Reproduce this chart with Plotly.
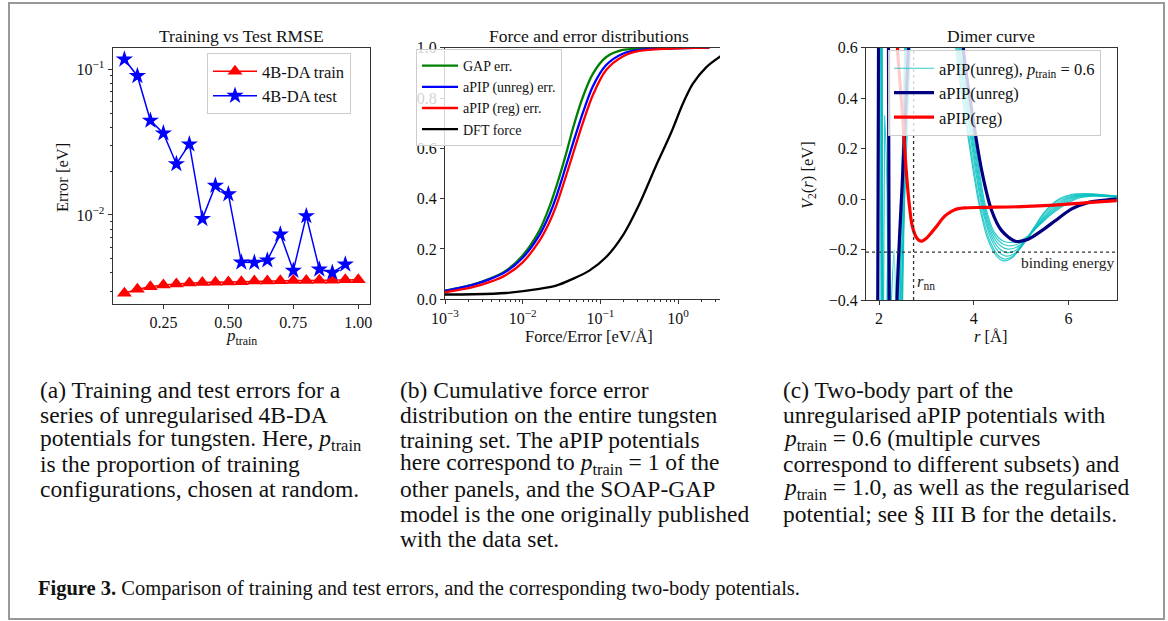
import plotly.graph_objects as go

W, H = 1168, 621
FONT = "Liberation Serif"

# ---------------- Panel (a): training vs test RMSE ----------------
p_train_train = [0.10, 0.15, 0.20, 0.25, 0.30, 0.35, 0.40, 0.45, 0.50, 0.55,
                 0.60, 0.65, 0.70, 0.75, 0.80, 0.85, 0.90, 0.95, 1.00]
train_err = [0.00290, 0.00309, 0.00322, 0.00331, 0.00336, 0.00341, 0.00344, 0.00345,
             0.00347, 0.00348, 0.00352, 0.00352, 0.00353, 0.00355, 0.00355, 0.00357,
             0.00357, 0.00359, 0.00359]
p_train_test = [0.10, 0.15, 0.20, 0.25, 0.30, 0.35, 0.40, 0.45, 0.50, 0.55,
                0.60, 0.65, 0.70, 0.75, 0.80, 0.85, 0.90, 0.95]
test_err = [0.117, 0.090, 0.0445, 0.0364, 0.0224, 0.0306, 0.0094, 0.0159, 0.0139,
            0.00473, 0.00471, 0.00489, 0.00736, 0.00415, 0.00984, 0.00424, 0.00402, 0.00458]

# ---------------- Panel (b): cumulative distributions ----------------
err_x = [0.001, 0.00227, 0.00372, 0.0061, 0.01, 0.0164, 0.022, 0.0269, 0.0361,
         0.0441, 0.0593, 0.0796, 0.118, 0.194, 0.318, 2.53]
gap_cdf = [0.034, 0.058, 0.081, 0.114, 0.174, 0.273, 0.366, 0.445, 0.577, 0.677,
           0.803, 0.895, 0.962, 0.991, 0.996, 1.0]
unreg_cdf = [0.033, 0.057, 0.079, 0.110, 0.165, 0.255, 0.335, 0.405, 0.530, 0.617,
             0.740, 0.845, 0.930, 0.976, 0.991, 1.0]
reg_cdf = [0.028, 0.048, 0.068, 0.097, 0.147, 0.232, 0.305, 0.370, 0.490, 0.575,
           0.700, 0.810, 0.910, 0.965, 0.987, 1.0]
dft_x = [0.001, 0.00227, 0.0061, 0.0164, 0.0269, 0.0441, 0.0721, 0.118, 0.194, 0.318,
         0.521, 0.700, 0.853, 1.148, 1.545, 2.30, 3.61]
dft_cdf = [0.019, 0.020, 0.025, 0.041, 0.054, 0.081, 0.114, 0.167, 0.253, 0.379,
           0.531, 0.617, 0.677, 0.776, 0.856, 0.922, 0.968]

# ---------------- Panel (c): dimer curves ----------------
cyan_r = [
    [1.99, 2.07, 2.12, 2.17, 2.24, 2.36, 2.50, 2.60, 3.00,
     3.50, 3.62, 3.80, 3.99, 4.12, 4.30, 4.48, 4.63, 4.80, 5.00, 5.25, 5.50, 5.80, 6.10, 6.40, 6.70, 7.05],
    [2.01, 2.09, 2.15, 2.22, 2.32, 2.42, 2.56, 3.00,
     3.52, 3.645, 3.82, 4.01, 4.14, 4.32, 4.50, 4.65, 4.82, 5.02, 5.27, 5.52, 5.82, 6.12, 6.42, 6.72, 7.05],
    [2.03, 2.11, 2.20, 2.30, 2.44, 2.54, 3.00,
     3.54, 3.67, 3.85, 4.04, 4.17, 4.35, 4.53, 4.68, 4.85, 5.05, 5.30, 5.55, 5.85, 6.15, 6.45, 6.75, 7.05],
    [2.02, 2.10, 2.18, 2.28, 2.46, 2.60, 3.00,
     3.56, 3.69, 3.87, 4.06, 4.19, 4.37, 4.55, 4.70, 4.87, 5.07, 5.32, 5.57, 5.87, 6.17, 6.47, 6.77, 7.05],
    [2.05, 2.12, 2.25, 2.40, 2.48, 2.62, 3.00,
     3.58, 3.71, 3.89, 4.08, 4.21, 4.39, 4.57, 4.72, 4.89, 5.09, 5.34, 5.59, 5.89, 6.19, 6.49, 6.79, 7.05],
    [2.04, 2.12, 2.20, 2.30, 2.42, 2.56, 3.00,
     3.60, 3.73, 3.91, 4.10, 4.23, 4.41, 4.59, 4.74, 4.91, 5.11, 5.36, 5.61, 5.91, 6.21, 6.51, 6.81, 7.05],
    [2.06, 2.13, 2.25, 2.38, 2.52, 2.66, 3.00,
     3.62, 3.75, 3.93, 4.12, 4.25, 4.43, 4.61, 4.76, 4.93, 5.13, 5.38, 5.63, 5.93, 6.23, 6.53, 6.83, 7.05],
]
cyan_v = [
    [2.5, -1.5, 0.33, 0.02, -1.2, -2.0, -0.4, 0.6, 3.0,
     1.3, 0.60, 0.35, 0.11, -0.03, -0.16, -0.225, -0.245, -0.235, -0.19, -0.12, -0.05, 0.0, 0.020, 0.022, 0.018, 0.012],
    [2.5, -1.8, -0.9, -0.6, -0.2, -1.5, 0.6, 3.0,
     1.3, 0.60, 0.35, 0.11, -0.03, -0.155, -0.22, -0.238, -0.228, -0.185, -0.115, -0.05, -0.002, 0.018, 0.020, 0.017, 0.011],
    [2.5, -2.0, -2.5, -1.5, -0.4, 0.6, 3.0,
     1.3, 0.60, 0.35, 0.11, -0.03, -0.15, -0.21, -0.226, -0.218, -0.178, -0.112, -0.052, -0.006, 0.015, 0.018, 0.015, 0.010],
    [2.5, -2.0, -0.25, -2.0, -0.3, 0.6, 3.0,
     1.3, 0.60, 0.35, 0.11, -0.03, -0.145, -0.198, -0.212, -0.205, -0.170, -0.110, -0.055, -0.010, 0.013, 0.016, 0.013, 0.009],
    [2.5, -2.0, -2.5, -1.0, -0.4, 0.6, 3.0,
     1.3, 0.60, 0.35, 0.11, -0.03, -0.14, -0.186, -0.198, -0.192, -0.163, -0.108, -0.057, -0.014, 0.011, 0.015, 0.012, 0.008],
    [2.5, -2.0, 0.2, -2.0, -0.4, 0.6, 3.0,
     1.3, 0.60, 0.35, 0.11, -0.03, -0.135, -0.175, -0.185, -0.180, -0.156, -0.106, -0.060, -0.018, 0.008, 0.013, 0.011, 0.007],
    [2.5, -2.0, -2.5, -0.9, -0.1, 0.6, 3.0,
     1.3, 0.60, 0.35, 0.11, -0.03, -0.13, -0.165, -0.172, -0.168, -0.148, -0.104, -0.062, -0.022, 0.005, 0.012, 0.010, 0.006],
]
navy_r = [1.94, 2.02, 2.10, 2.17, 2.25, 2.32, 2.38, 2.50, 2.62, 2.75, 3.20, 3.65, 3.78,
          3.96, 4.17, 4.38, 4.59, 4.88, 5.16, 5.44, 5.72, 6.07, 6.43, 6.78, 7.05]
navy_v = [-2.5, 2.5, 3.0, 2.5, -2.5, -2.0, -0.4, 0.1, 0.6, 1.3, 3.0, 1.3, 0.6,
          0.35, 0.112, -0.046, -0.125, -0.167, -0.158, -0.125, -0.086, -0.039, -0.013, -0.004, 0.0]
reg_r = [2.30, 2.39, 2.49, 2.56, 2.63, 2.70, 2.80, 2.89, 3.00, 3.12, 3.23, 3.35, 3.45,
         3.60, 3.80, 4.20, 5.00, 5.70, 6.40, 7.05]
reg_v = [1.3, 0.6, 0.35, 0.15, -0.006, -0.105, -0.155, -0.167, -0.155, -0.13, -0.105,
         -0.075, -0.058, -0.042, -0.035, -0.033, -0.030, -0.024, -0.014, -0.006]
r_nn = 2.73
binding_energy = -0.21

# ---------------- captions ----------------
cap_a = ["(a) Training and test errors for a",
         "series of unregularised 4B-DA",
         "potentials for tungsten. Here, <i>p</i><sub>train</sub>",
         "is the proportion of training",
         "configurations, chosen at random."]
cap_b = ["(b) Cumulative force error",
         "distribution on the entire tungsten",
         "training set. The aPIP potentials",
         "here correspond to <i>p</i><sub>train</sub> = 1 of the",
         "other panels, and the SOAP-GAP",
         "model is the one originally published",
         "with the data set."]
cap_c = ["(c) Two-body part of the",
         "unregularised aPIP potentials with",
         "<i>p</i><sub>train</sub> = 0.6 (multiple curves",
         "correspond to different subsets) and",
         "<i>p</i><sub>train</sub> = 1.0, as well as the regularised",
         "potential; see § III B for the details."]
fig_caption = "<b>Figure 3.</b> Comparison of training and test errors, and the corresponding two-body potentials."


def fx(px):
    return px / W


def fy(py):
    return 1 - py / H


fig = go.Figure()

# Panel a traces
fig.add_trace(go.Scatter(x=p_train_train, y=train_err, mode="lines+markers", name="4B-DA train",
                         line=dict(color="#ff0000", width=1.5),
                         marker=dict(symbol="triangle-up", size=13, color="#ff0000"),
                         xaxis="x", yaxis="y", legend="legend"))
fig.add_trace(go.Scatter(x=p_train_test, y=test_err, mode="lines+markers", name="4B-DA test",
                         line=dict(color="#0000ff", width=1.5),
                         marker=dict(symbol="star", size=13, color="#0000ff"),
                         xaxis="x", yaxis="y", legend="legend"))

# Panel b traces
for xs, ys, name, col in [(err_x, gap_cdf, "GAP err.", "#008000"),
                          (err_x, unreg_cdf, "aPIP (unreg) err.", "#0000ff"),
                          (err_x, reg_cdf, "aPIP (reg) err.", "#ff0000"),
                          (dft_x, dft_cdf, "DFT force", "#000000")]:
    fig.add_trace(go.Scatter(x=xs, y=ys, mode="lines", name=name,
                             line=dict(color=col, width=2.3, shape="spline", smoothing=0.8),
                             xaxis="x2", yaxis="y2", legend="legend2"))

# Panel c traces
for i, (rr, vv) in enumerate(zip(cyan_r, cyan_v)):
    fig.add_trace(go.Scatter(x=rr, y=vv, mode="lines",
                             name="aPIP(unreg), <i>p</i><sub>train</sub> = 0.6",
                             line=dict(color="rgba(0,191,191,0.8)", width=1.2, shape="spline", smoothing=0.8),
                             legendgroup="cyan", showlegend=(i == 0),
                             xaxis="x3", yaxis="y3", legend="legend3"))
fig.add_trace(go.Scatter(x=navy_r, y=navy_v, mode="lines", name="aPIP(unreg)",
                         line=dict(color="#000080", width=3.2, shape="spline", smoothing=0.8),
                         legendgroup="navy", xaxis="x3", yaxis="y3", legend="legend3"))
fig.add_trace(go.Scatter(x=reg_r, y=reg_v, mode="lines", name="aPIP(reg)",
                         line=dict(color="#ff0000", width=3.2, shape="spline", smoothing=0.8),
                         legendgroup="reg", xaxis="x3", yaxis="y3", legend="legend3"))

axis_common = dict(showgrid=False, zeroline=False, showline=True, linecolor="#333",
                   linewidth=1.2, ticks="outside", ticklen=4, tickwidth=1, tickcolor="#333",
                   tickfont=dict(size=16, family=FONT, color="#111"))

# Minor tick positions
minor_a = [0.003, 0.004, 0.005, 0.006, 0.007, 0.008, 0.009,
           0.02, 0.03, 0.04, 0.05, 0.06, 0.07, 0.08, 0.09]
minor_b = [0.002, 0.003, 0.004, 0.005, 0.006, 0.007, 0.008, 0.009,
           0.02, 0.03, 0.04, 0.05, 0.06, 0.07, 0.08, 0.09,
           0.2, 0.3, 0.4, 0.5, 0.6, 0.7, 0.8, 0.9, 2, 3]

legend_style = dict(xanchor="left", yanchor="top", bgcolor="rgba(255,255,255,0.8)",
                    bordercolor="#cccccc", borderwidth=1, tracegroupgap=0, traceorder="normal")

fig.update_layout(
    width=W, height=H, autosize=False,
    margin=dict(l=0, r=0, t=0, b=0, pad=0, autoexpand=False),
    paper_bgcolor="white", plot_bgcolor="white",
    font=dict(family=FONT, color="#111"),
    xaxis=dict(domain=[fx(112.7), fx(370)], range=[0.055, 1.045], anchor="y", mirror=True,
               tickvals=[0.25, 0.5, 0.75, 1.0], tickformat=".2f", **axis_common),
    yaxis=dict(domain=[fy(304), fy(47.7)], type="log", range=[-2.611, -0.852], anchor="x", mirror=True,
               tickvals=[0.01, 0.1], ticktext=["10<sup>−2</sup>", "10<sup>−1</sup>"],
               minor=dict(tickvals=minor_a, ticklen=2, ticks="outside", tickcolor="#333"),
               **axis_common),
    xaxis2=dict(domain=[fx(445), fx(720)], type="log", range=[-3, 0.54], anchor="y2", mirror=True,
                tickvals=[0.001, 0.01, 0.1, 1],
                ticktext=["10<sup>−3</sup>", "10<sup>−2</sup>", "10<sup>−1</sup>", "10<sup>0</sup>"],
                minor=dict(tickvals=minor_b, ticklen=2, ticks="outside", tickcolor="#333"),
                **axis_common),
    yaxis2=dict(domain=[fy(299.3), fy(47.7)], range=[0, 1], anchor="x2",
                tickvals=[0, 0.2, 0.4, 0.6, 0.8, 1.0], tickformat=".1f", **axis_common),
    xaxis3=dict(domain=[fx(866), fx(1116.7)], range=[1.725, 7.02], anchor="y3", mirror=True,
                tickvals=[2, 4, 6], **axis_common),
    yaxis3=dict(domain=[fy(300), fy(47.7)], range=[-0.4, 0.6], anchor="x3", mirror=True,
                tickvals=[-0.4, -0.2, 0.0, 0.2, 0.4, 0.6], tickformat=".1f", **axis_common),
    legend=dict(x=fx(207), y=fy(53), font=dict(size=16.5, family=FONT, color="#111"),
                itemwidth=44, **legend_style),
    legend2=dict(x=fx(416), y=fy(49), font=dict(size=14, family=FONT, color="#111"),
                 itemwidth=36, **legend_style),
    legend3=dict(x=fx(888), y=fy(50), font=dict(size=16.5, family=FONT, color="#111"),
                 itemwidth=40, **legend_style),
)

shapes = [
    # figure frame
    dict(type="rect", xref="paper", yref="paper", x0=fx(9), x1=fx(1164), y0=fy(619), y1=fy(3),
         line=dict(color="#999999", width=2)),
    # r_nn and binding energy guide lines
    dict(type="line", xref="x3", yref="y3 domain", x0=r_nn, x1=r_nn, y0=0, y1=1,
         line=dict(color="#333", width=1.3, dash="dot")),
    dict(type="line", xref="x3 domain", yref="y3", x0=0, x1=1, y0=binding_energy, y1=binding_energy,
         line=dict(color="#333", width=1.3, dash="dot")),
]
fig.update_layout(shapes=shapes)

ann = []


def text(x, y, s, size, xanchor="center", yanchor="middle", angle=0, color="#111", family=FONT):
    ann.append(dict(x=fx(x), y=fy(y), xref="paper", yref="paper", text=s, showarrow=False,
                    xanchor=xanchor, yanchor=yanchor, textangle=angle,
                    font=dict(size=size, family=family, color=color)))


# panel titles
text(241.3, 36, "Training vs Test RMSE", 17.5)
text(589, 36, "Force and error distributions", 17.5)
text(991, 36, "Dimer curve", 17.5)
# axis titles
text(63, 178, "Error [eV]", 16.5, angle=-90)
text(241.3, 337, "<i>p</i><sub>train</sub>", 17)
text(589, 336, "Force/Error [eV/Å]", 16.5)
text(990, 336, "<i>r</i> [Å]", 16.5)
text(808, 175, "<i>V</i><sub>2</sub>(<i>r</i>) [eV]", 16.5, angle=-90)

# in-plot labels (panel c), in data coordinates
ann.append(dict(x=r_nn + 0.04, y=-0.33, xref="x3", yref="y3", text="<i>r</i><sub>nn</sub>",
                showarrow=False, xanchor="left", yanchor="middle",
                font=dict(size=16.5, family=FONT, color="#222")))
ann.append(dict(x=7.0, y=binding_energy - 0.04, xref="x3", yref="y3", text="binding energy",
                showarrow=False, xanchor="right", yanchor="middle",
                font=dict(size=15.5, family=FONT, color="#222")))

# captions
line_y = [390, 414.8, 439.6, 464.4, 489.2, 514, 538.8]
for xs, lines in [(38, cap_a), (398, cap_b), (781, cap_c)]:
    for k, s in enumerate(lines):
        text(xs, line_y[k], s, 23.5, xanchor="left")
text(36, 588, fig_caption, 20.5, xanchor="left", color="#111")

fig.update_layout(annotations=ann)

fig.write_html("out.html")
